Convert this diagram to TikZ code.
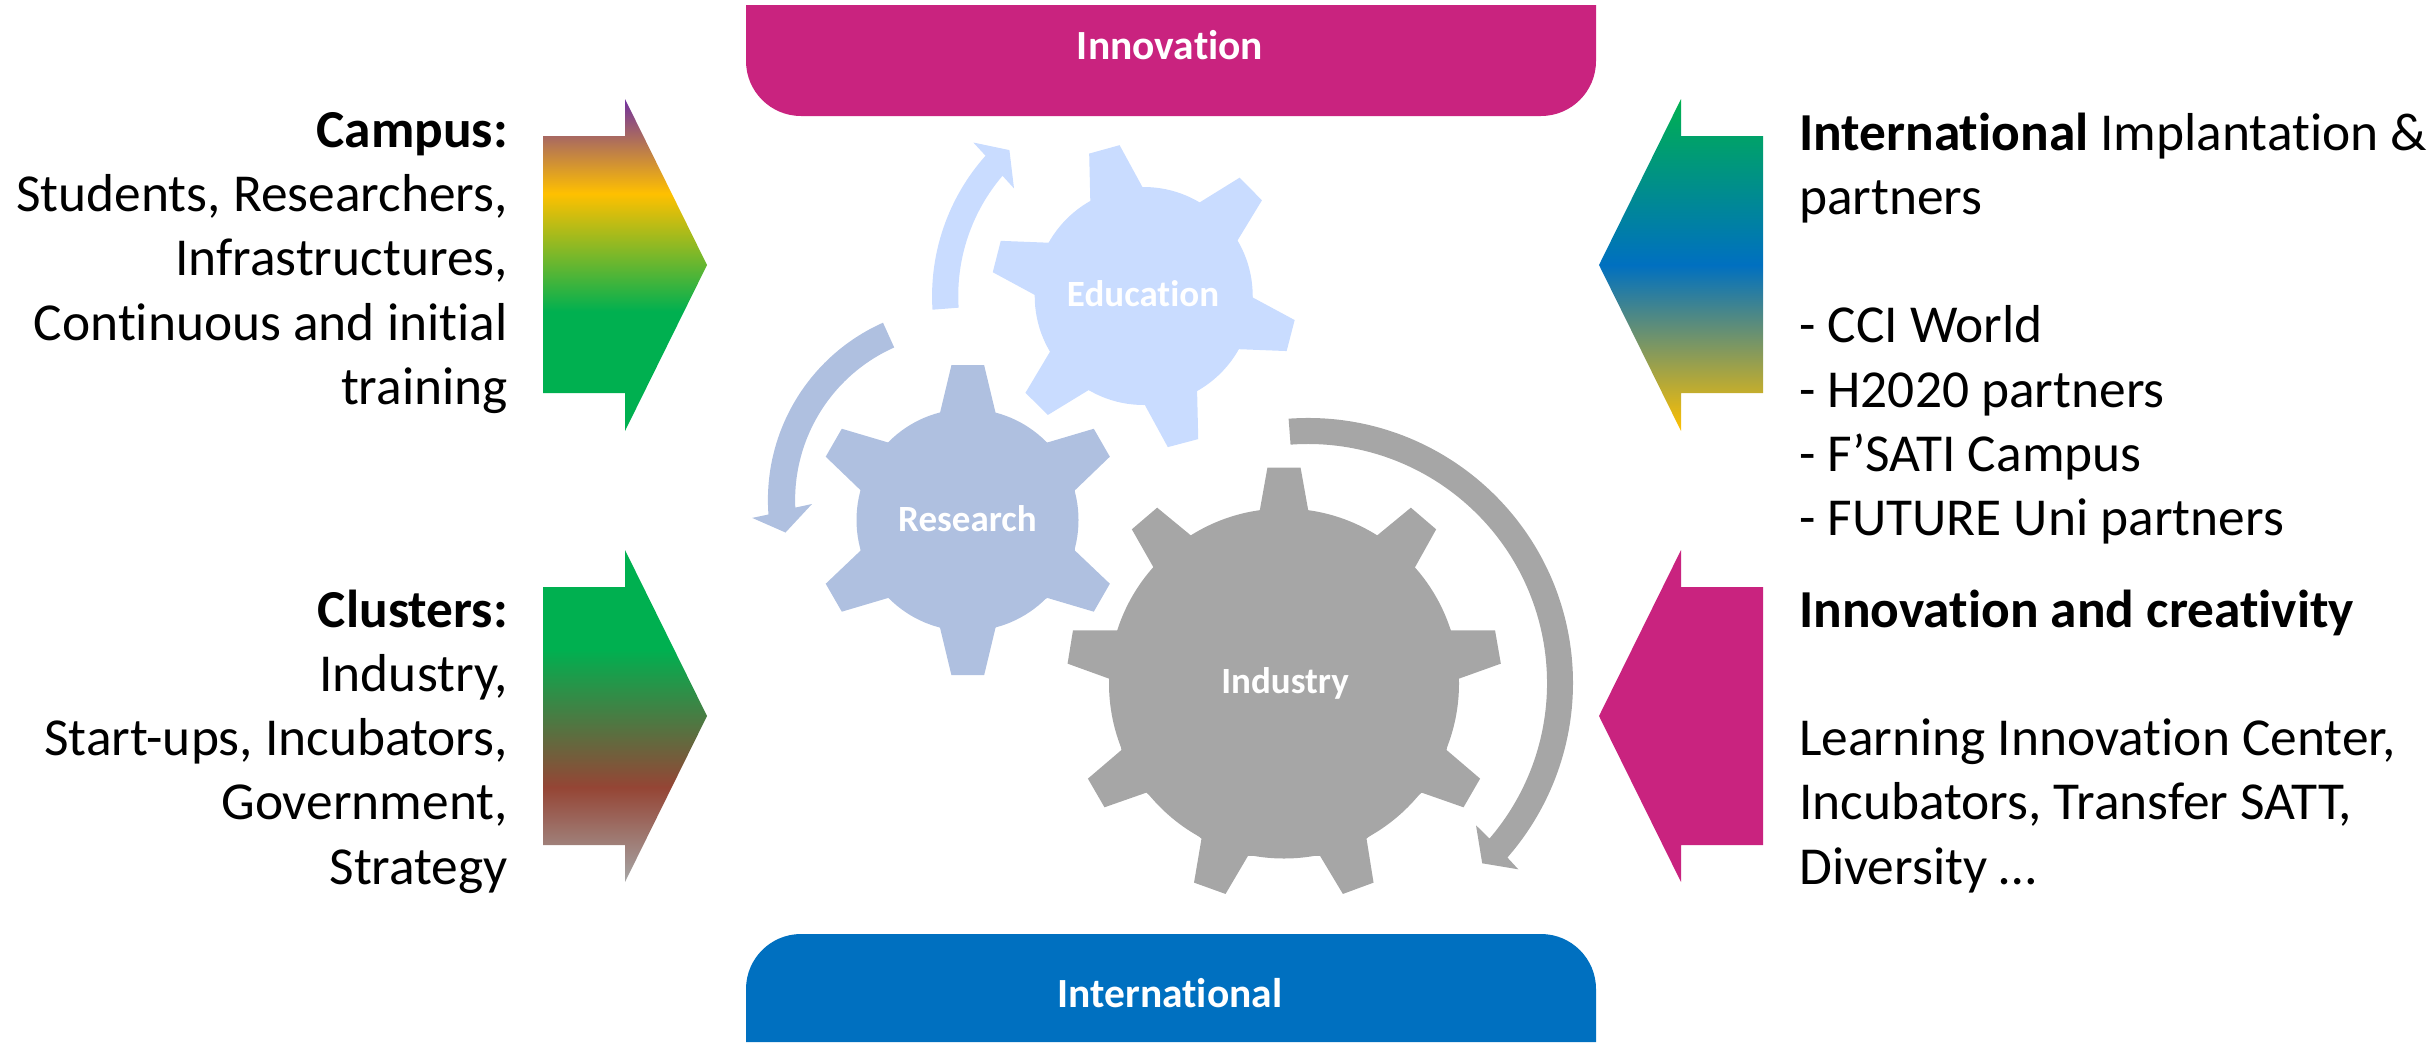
\documentclass[tikz,border=0pt]{standalone}
\usepackage{fontspec}
\setmainfont{Carlito}[Ligatures={NoCommon}]
\definecolor{magentaC}{HTML}{C9237F}
\definecolor{blueC}{HTML}{0070C0}
\definecolor{eduC}{HTML}{C9DCFF}
\definecolor{resC}{HTML}{AFC0E0}
\definecolor{indC}{HTML}{A6A6A6}
\definecolor{purpleC}{HTML}{7030A0}
\definecolor{amberC}{HTML}{FFC000}
\definecolor{greenC}{HTML}{00B050}
\definecolor{brownC}{HTML}{954535}
\pgfdeclareverticalshading{gradA}{100bp}{color(0bp)=(greenC); color(25bp)=(greenC); color(43bp)=(greenC); color(60.75bp)=(amberC); color(75bp)=(purpleC); color(100bp)=(purpleC)}
\pgfdeclareverticalshading{gradB}{100bp}{color(0bp)=(indC); color(25bp)=(indC); color(39.25bp)=(brownC); color(60bp)=(greenC); color(75bp)=(greenC); color(100bp)=(greenC)}
\pgfdeclareverticalshading{gradC}{100bp}{color(0bp)=(amberC); color(25bp)=(amberC); color(50bp)=(blueC); color(75bp)=(greenC); color(100bp)=(greenC)}
\tikzset{
  body/.style={inner sep=0pt,font=\fontsize{53.4}{64.1}\selectfont,text=black},
  leftblock/.style={body,align=right,anchor=north east},
  rightblock/.style={body,align=left,anchor=north west},
  bandlabel/.style={inner sep=0pt,text=white,font=\fontsize{41.5}{48}\selectfont\bfseries},
  gearlabel/.style={inner sep=0pt,text=white,font=\fontsize{37}{44}\selectfont\bfseries},
}
\begin{document}
\begin{tikzpicture}[x=1pt,y=1pt,yscale=-1]
\useasboundingbox (0,0) rectangle (2433,1042);
% bands
\fill[magentaC] (746,5) -- (1596,5) -- (1596,61) arc[start angle=0,end angle=90,radius=55] -- (801,116) arc[start angle=90,end angle=180,radius=55] -- cycle;
\fill[blueC] (746,1042) -- (746,989) arc[start angle=180,end angle=270,radius=55] -- (1541,934) arc[start angle=270,end angle=360,radius=55] -- (1596,1042) -- cycle;
\node[bandlabel] (innov) at (1170,45) {Innovation};
\node[bandlabel] (intl) at (1170,993) {International};
% block arrows
\path[shading=gradA] (543,136) -- (625,136) -- (625,99) -- (707,265) -- (625,431) -- (625,393) -- (543,393) -- cycle;
\path[shading=gradB] (543,587) -- (625,587) -- (625,550) -- (707,716) -- (625,882) -- (625,845) -- (543,845) -- cycle;
\path[shading=gradC] (1763,136) -- (1681,136) -- (1681,99) -- (1599,265) -- (1681,431) -- (1681,393) -- (1763,393) -- cycle;
\fill[magentaC] (1763,587) -- (1681,587) -- (1681,550) -- (1599,716) -- (1681,882) -- (1681,845) -- (1763,845) -- cycle;
% Education gear
\fill[eduC] (1143.7,296) circle[radius=109];
\begin{scope}[shift={(700,100)},x=0.574pt,y=0.3827pt]
\fill[eduC] (678,140)--(731,118)--(771,228)--(870,268)--(940,203)--(979,262)--(936,368)--(963,516)--(1036,575)--(1022,656)--(937,651)--(866,760)--(868,886)--(815,907)--(775,797)--(677,758)--(606,823)--(567,765)--(610,657)--(584,510)--(510,450)--(524,368)--(609,373)--(680,266)--cycle;
\end{scope}
% Research gear
\fill[resC] (967.5,520) circle[radius=111];
\begin{scope}[shift={(700,100)},x=0.574pt,y=0.3827pt]
\fill[resC] (438,693)--(495,693)--(515,818)--(605,895)--(686,859)--(714,932)--(653,1020)--(653,1177)--(714,1264)--(686,1337)--(605,1301)--(515,1378)--(495,1503)--(438,1503)--(418,1378)--(328,1301)--(247,1337)--(219,1264)--(280,1177)--(280,1020)--(219,932)--(247,859)--(328,895)--(418,818)--cycle;
\end{scope}
% Industry gear
\fill[indC] (1284,683.5) circle[radius=175];
\begin{scope}[shift={(1000,400)},x=0.4146pt,y=0.3333pt]
\fill[indC] (645,203)--(725,203)--(744,335)--(908,408)--(991,323)--(1052,388)--(1000,504)--(1087,691)--(1194,691)--(1208,791)--(1107,836)--(1077,1050)--(1158,1136)--(1118,1222)--(1017,1178)--(884,1316)--(901,1448)--(827,1482)--(772,1368)--(598,1368)--(544,1482)--(468,1448)--(486,1316)--(353,1178)--(252,1222)--(212,1136)--(293,1050)--(263,836)--(163,791)--(176,691)--(284,691)--(371,504)--(318,388)--(379,323)--(462,408)--(626,335)--cycle;
\end{scope}
% curved arrows
\fill[eduC] (932.5,309.7) arc[start angle=176.3,end angle=221.7,radius=211] -- (973.3,142.5) -- (1009.4,150.1) -- (1014,188.4) -- (1002.5,175.8) arc[start angle=220.5,end angle=176.3,radius=184.7] -- cycle;
\fill[resC] (883,322.7) arc[start angle=246,end angle=175.7,radius=194] -- (752.2,517.9) -- (785.5,532.5) -- (812,504) -- (795.3,507.6) arc[start angle=177.4,end angle=246,radius=167] -- cycle;
\fill[indC] (1288.6,418.7) arc[start angle=-94.2,end angle=41.2,radius=265] -- (1518.3,869.3) -- (1482.2,863.3) -- (1476,825.3) -- (1489.5,838.5) arc[start angle=40.6,end angle=-94.2,radius=239] -- cycle;
% gear labels
\node[gearlabel] (edu) at (1143,294) {Education};
\node[gearlabel] (res) at (967.5,519) {Research};
\node[gearlabel] (ind) at (1285,683) {Industry};
% texts
\node[leftblock] (campus) at (508,112.5) {\textbf{Campus:}\\Students, Researchers,\\Infrastructures,\\Continuous and initial\\training};
\node[leftblock] (clusters) at (508,590) {\textbf{Clusters:}\\Industry,\\Start-ups, Incubators,\\Government,\\Strategy};
\node[rightblock] (inter) at (1799,113) {\textbf{International} Implantation \&\\partners\\[64.1pt]- CCI World\\- H2020 partners\\- F’SATI Campus\\- FUTURE Uni partners};
\node[rightblock] (creat) at (1799,590) {\textbf{Innovation and creativity}\\[64.1pt]Learning Innovation Center,\\Incubators, Transfer SATT,\\Diversity …};
\end{tikzpicture}
\end{document}
